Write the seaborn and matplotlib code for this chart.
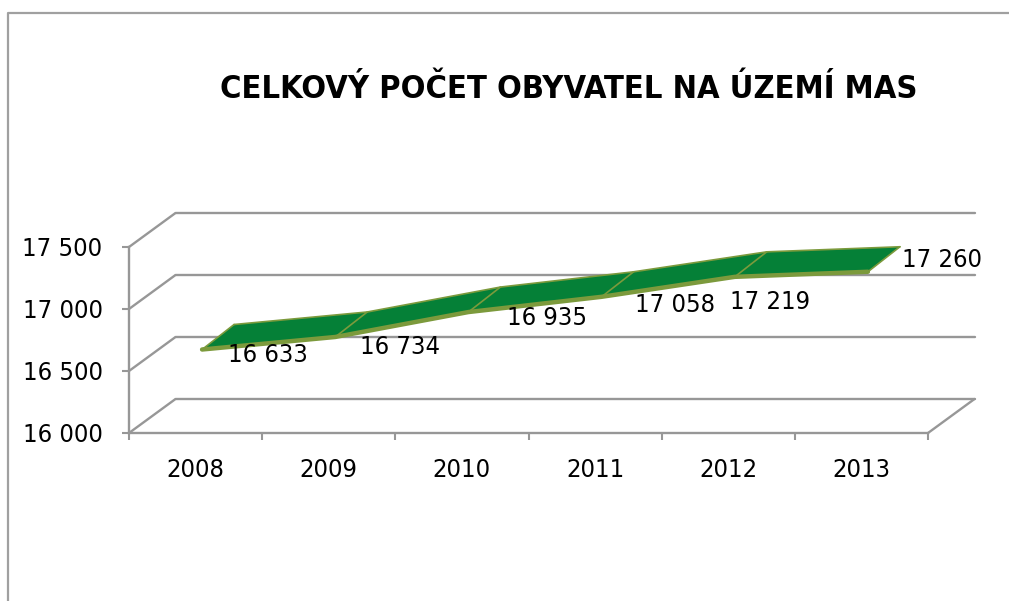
import pandas as pd
import seaborn as sns
import matplotlib.pyplot as plt
from matplotlib.lines import Line2D

# Chart values
years = ['2008', '2009', '2010', '2011', '2012', '2013']
population = [16633, 16734, 16935, 17058, 17219, 17260]
y_ticks = [16000, 16500, 17000, 17500]
y_tick_labels = ['16 000', '16 500', '17 000', '17 500']
value_labels = ['16 633', '16 734', '16 935', '17 058', '17 219', '17 260']
title = 'CELKOVÝ POČET OBYVATEL NA ÚZEMÍ MAS'

# Layout in pixels
W, H = 1009, 601
left, right, top, bottom = 129, 928, 247, 433
label_offsets = [(66, -5), (65, -10), (79, -6), (73, -8), (35, -25), (74, 12)]

GRAY = '#979797'
GREEN = '#058037'
OLIVE = '#7c9a3c'

sns.set_theme(style='white')
plt.rcParams['font.family'] = 'DejaVu Sans'
plt.rcParams['font.stretch'] = 'condensed'

fig = plt.figure(figsize=(W / 100, H / 100), dpi=100)
ax = fig.add_axes([left / W, 1 - bottom / H, (right - left) / W, (bottom - top) / H])
ax.set_xlim(0, len(years))
ax.set_ylim(y_ticks[0], y_ticks[-1])

# 3D depth expressed in data units
px_x = len(years) / (right - left)
px_y = (y_ticks[-1] - y_ticks[0]) / (bottom - top)
depth_x, depth_y = 46.5 * px_x, 34 * px_y
rib_x0, rib_y0 = 6.5 * px_x, 5 * px_y
rib_x1, rib_y1 = 38.5 * px_x, 30 * px_y

# Walls of the fake 3D plot
for t in y_ticks:
    ax.plot([0, depth_x], [t, t + depth_y], color=GRAY, lw=1.7, clip_on=False)
    ax.plot([depth_x, len(years) + depth_x], [t + depth_y, t + depth_y],
            color=GRAY, lw=1.7, clip_on=False)
ax.plot([len(years), len(years) + depth_x], [y_ticks[0], y_ticks[0] + depth_y],
        color=GRAY, lw=1.7, clip_on=False)

# Ribbon
df = pd.DataFrame({'pos': [i + 0.5 for i in range(len(years))], 'value': population})
df['fx'] = df['pos'] + rib_x0
df['fy'] = df['value'] + rib_y0
df['bx'] = df['pos'] + rib_x1
df['by'] = df['value'] + rib_y1

ax.fill(list(df['fx']) + list(df['bx'])[::-1], list(df['fy']) + list(df['by'])[::-1],
        color=GREEN, lw=0, zorder=3, clip_on=False)
for i in range(len(df)):
    ax.plot([df['fx'][i], df['bx'][i]], [df['fy'][i], df['by'][i]],
            color=OLIVE, lw=1.2, zorder=4, clip_on=False)
sns.lineplot(data=df, x='bx', y='by', color=OLIVE, lw=1.2, ax=ax, zorder=4,
             sort=False, errorbar=None, clip_on=False)
sns.lineplot(data=df, x='fx', y='fy', color=OLIVE, lw=3.2, ax=ax, zorder=5,
             sort=False, errorbar=None, clip_on=False)

for i, lab in enumerate(value_labels):
    ax.annotate(lab, (df['fx'][i], df['fy'][i]), xytext=label_offsets[i],
                textcoords='offset pixels', ha='center', va='center',
                fontsize=18.3, color='black', zorder=6, annotation_clip=False)

# Axes, ticks
sns.despine(ax=ax, top=True, right=True)
for side in ['left', 'bottom']:
    ax.spines[side].set_color(GRAY)
    ax.spines[side].set_linewidth(1.7)
ax.set_xlabel('')
ax.set_ylabel('')
ax.set_xticks(range(len(years) + 1))
ax.set_xticklabels([])
ax.set_xticks([i + 0.5 for i in range(len(years))], minor=True)
ax.set_xticklabels(years, minor=True, fontsize=18.3, color='black')
ax.set_yticks(y_ticks)
ax.set_yticklabels(y_tick_labels, fontsize=18.3, color='black')
ax.tick_params(axis='x', which='major', length=5, width=1.5, color=GRAY, bottom=True)
ax.tick_params(axis='x', which='minor', length=0, pad=18, bottom=False)
ax.tick_params(axis='y', length=5, width=1.5, color=GRAY, left=True, pad=14)

fig.text(569 / W, 1 - 90 / H, title, ha='center', va='center',
         fontsize=23.4, fontweight='bold', color='black')

# Outer chart frame, cropped by the image on right and bottom
fig.add_artist(Line2D([8 / W, 8 / W, 1], [0, 1 - 13 / H, 1 - 13 / H], color='#a0a0a0', lw=1.6))

fig.savefig('out.png', dpi=100)
